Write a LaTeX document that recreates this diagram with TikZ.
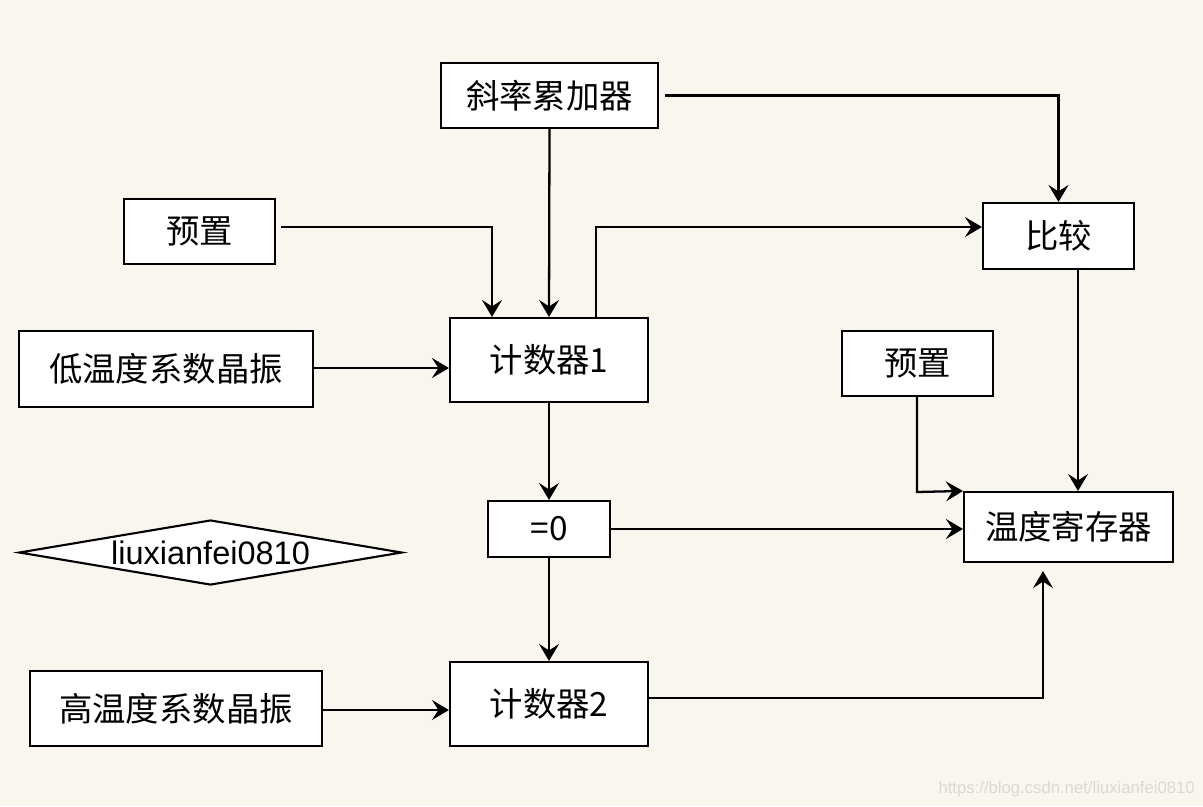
\documentclass[tikz,border=0pt]{standalone}
\usepackage{fontspec}
\setmainfont{Liberation Sans}
\newfontfamily\cjk{Noto Sans CJK SC}
\usetikzlibrary{arrows.meta,shapes.geometric,calc}
\definecolor{bg}{HTML}{F9F6EF}
\definecolor{wm}{HTML}{DCD9D2}
\begin{document}
\begin{tikzpicture}[x=0.02cm,y=-0.02cm,
  box/.style={draw,line width=1.2pt,fill=white,inner sep=0pt,font=\cjk\fontsize{19}{20}\selectfont},
  conn/.style={line width=1.3pt,-{Stealth[length=3.4mm,width=4mm,inset=1.3mm]}},
  plain/.style={line width=1.2pt}]
\fill[bg] (0,0) rectangle (1203,806);
\useasboundingbox (0,0) rectangle (1203,806);

\node[box,minimum width=217*0.02cm,minimum height=65*0.02cm] (acc) at (549.5,95.5) {斜率累加器};
\node[box,minimum width=151*0.02cm,minimum height=65*0.02cm] (pre1) at (199.5,231.5) {预置};
\node[box,minimum width=151*0.02cm,minimum height=66*0.02cm] (cmp) at (1058.5,236) {比较};
\node[box,minimum width=198*0.02cm,minimum height=84*0.02cm] (c1) at (549,360) {计数器1};
\node[box,minimum width=294*0.02cm,minimum height=76*0.02cm] (low) at (166,369) {低温度系数晶振};
\node[box,minimum width=151*0.02cm,minimum height=65*0.02cm] (pre2) at (917.5,363.5) {预置};
\node[box,minimum width=122*0.02cm,minimum height=56*0.02cm] (eq) at (549,529) {=0};
\node[box,minimum width=209*0.02cm,minimum height=70*0.02cm] (reg) at (1068.5,527) {温度寄存器};
\node[box,minimum width=292*0.02cm,minimum height=75*0.02cm] (high) at (176,708.5) {高温度系数晶振};
\node[box,minimum width=198*0.02cm,minimum height=84*0.02cm] (c2) at (549,704) {计数器2};
\node[draw,diamond,line width=1.2pt,fill=white,inner sep=0pt,minimum width=383*0.02cm,minimum height=65*0.02cm,aspect=5.9,font=\fontsize{18.5}{20}\selectfont] (dia) at (210.5,552.5) {liuxianfei0810};

% connectors
\draw[conn] ($(acc.east)+(6,0)$) -| (cmp.north);
\draw[conn] (acc.south) -- (c1.north);
\coordinate (p1a) at (281,227);
\coordinate (p1b) at (492,227);
\draw[conn] (p1a) -- (p1b) -- (c1.north -| p1b);
\coordinate (c1t) at (596,318);
\coordinate (c1u) at (596,227);
\draw[conn] (c1t) -- (c1u) -- (c1u -| cmp.west);
\draw[conn] (low.east |- 0,368) -- (c1.west |- 0,368);
\draw[conn] (c1.south) -- (eq.north);
\draw[conn] (eq.east) -- (reg.west |- eq.east);
\draw[conn] (eq.south) -- (c2.north);
\coordinate (p2c) at (917,492);
\draw[conn] (pre2.south -| p2c) -- (p2c) -- (reg.north west);
\draw[conn] (cmp.south -| 1078,0) -- (reg.north -| 1078,0);
\draw[conn] (high.east |- 0,710) -- (c2.west |- 0,710);
\coordinate (c2r) at (1043,698);
\draw[conn] (c2.east |- c2r) -- (c2r) -- ($(reg.south -| c2r)+(0,8)$);

\node[text=wm,font=\fontsize{9.5}{11}\selectfont,anchor=east,inner sep=0pt] (wmk) at (1195,789) {https://blog.csdn.net/liuxianfei0810};
\end{tikzpicture}
\end{document}
